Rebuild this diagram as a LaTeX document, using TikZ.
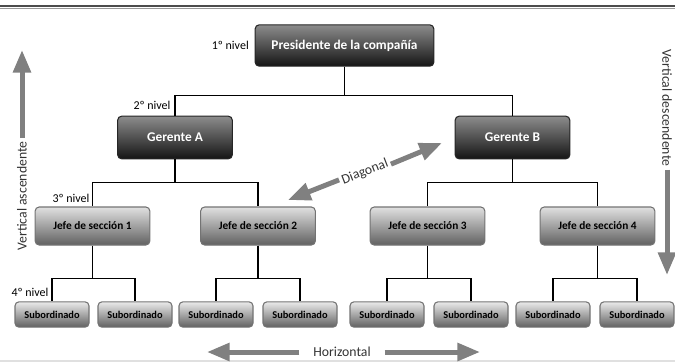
\documentclass[tikz,border=0pt]{standalone}
\usepackage{fontspec}
\setmainfont{Carlito}
\usetikzlibrary{arrows.meta,positioning}

\begin{document}
\begin{tikzpicture}[x=0.75pt,y=-0.75pt,
    darkbox/.style={draw=black!85,rounded corners=3pt,top color=black!45,middle color=black!68,bottom color=black!92,text=white,inner sep=0pt,font=\fontsize{10}{12}\selectfont\bfseries},
    jefebox/.style={draw=black!55,rounded corners=3pt,top color=black!12,middle color=black!28,bottom color=black!62,inner sep=0pt,minimum width=86pt,minimum height=28.5pt,font=\fontsize{8.5}{10}\selectfont\bfseries},
    subbox/.style={draw=black!55,rounded corners=3pt,top color=black!8,middle color=black!25,bottom color=black!62,inner sep=0pt,minimum width=55.5pt,minimum height=19pt,font=\fontsize{7.8}{9}\selectfont\bfseries},
    lvl/.style={inner sep=0pt,font=\fontsize{9}{11}\selectfont},
    axislabel/.style={inner sep=0pt,text=black!80,font=\fontsize{10.3}{12}\selectfont},
    bigarrow/.style={draw=black!50,line width=3.75pt,-{Triangle[length=17pt,width=13pt]}},
    line width=0.8pt]
    \useasboundingbox (0,0) rectangle (675,362);%
    \draw[black!70,line width=2pt] (0,6) -- (675,6);%
    \draw[black!40,line width=0.8pt] (0,8.5) -- (675,8.5);%
    \draw[black!12,line width=2pt] (0,361) -- (675,361);%

    \node[darkbox,minimum width=134pt,minimum height=31pt] (pres) at (344.5,45.5) {Presidente de la compañía};%
    \node[darkbox,minimum width=86pt,minimum height=32pt] (gerA) at (175,137.5) {Gerente A};%
    \node[darkbox,minimum width=86pt,minimum height=32pt] (gerB) at (512.5,137.5) {Gerente B};%
    \node[jefebox] (jefe1) at (92.5,226) {Jefe de sección 1};%
    \node[jefebox] (jefe2) at (258,226) {Jefe de sección 2};%
    \node[jefebox] (jefe3) at (427.5,226) {Jefe de sección 3};%
    \node[jefebox] (jefe4) at (597.5,226) {Jefe de sección 4};%
    \node[subbox] (sub1) at (52,314.5) {Subordinado};%
    \node[subbox] (sub2) at (135,314.5) {Subordinado};%
    \node[subbox] (sub3) at (216,314.5) {Subordinado};%
    \node[subbox] (sub4) at (300,314.5) {Subordinado};%
    \node[subbox] (sub5) at (387,314.5) {Subordinado};%
    \node[subbox] (sub6) at (471,314.5) {Subordinado};%
    \node[subbox] (sub7) at (553,314.5) {Subordinado};%
    \node[subbox] (sub8) at (637,314.5) {Subordinado};%

    \node[lvl,left=4pt of pres] (niv1) {1º nivel};%
    \node[lvl,anchor=east] (niv2) at (171,105) {2º nivel};%
    \node[lvl,anchor=east] (niv3) at (90,198) {3º nivel};%
    \node[lvl,anchor=east] (niv4) at (49,292) {4º nivel};%

    \draw[-] (pres.south) -- ++(0,29) -| (gerA.north);%
    \draw[-] (pres.south) -- ++(0,29) -| (gerB.north);%
    \draw[-] (gerA.south) -- ++(0,23) -| (jefe1.north);%
    \draw[-] (gerA.south) -- ++(0,23) -| (jefe2.north);%
    \draw[-] (gerB.south) -- ++(0,23) -| (jefe3.north);%
    \draw[-] (gerB.south) -- ++(0,23) -| (jefe4.north);%
    \draw[-] (jefe1.south) -- ++(0,33) -| (sub1.north);%
    \draw[-] (jefe1.south) -- ++(0,33) -| (sub2.north);%
    \draw[-] (jefe2.south) -- ++(0,33) -| (sub3.north);%
    \draw[-] (jefe2.south) -- ++(0,33) -| (sub4.north);%
    \draw[-] (jefe3.south) -- ++(0,33) -| (sub5.north);%
    \draw[-] (jefe3.south) -- ++(0,33) -| (sub6.north);%
    \draw[-] (jefe4.south) -- ++(0,33) -| (sub7.north);%
    \draw[-] (jefe4.south) -- ++(0,33) -| (sub8.north);%

    % flujos de comunicacion
    \node[axislabel,rotate=90] (asc) at (22,196) {Vertical ascendente};%
    \coordinate (ascTip) at (22,50);%
    \draw[bigarrow] ([yshift=2pt]asc.east) -- (ascTip);%
    \node[axislabel,rotate=-90] (desc) at (667,108) {Vertical descendente};%
    \coordinate (descTip) at (667,275);%
    \draw[bigarrow] ([yshift=-2pt]desc.east) -- (descTip);%
    \node[axislabel] (hor) at (342,352) {Horizontal};%
    \coordinate (horL) at (207,352);%
    \coordinate (horR) at (480,352);%
    \draw[bigarrow] ([xshift=-10pt]hor.west) -- (horL);%
    \draw[bigarrow] ([xshift=10pt]hor.east) -- (horR);%
    \node[axislabel,rotate=21] (diag) at (365,172) {Diagonal};%
    \coordinate (diagL) at (288,200);%
    \coordinate (diagR) at (442,143);%
    \draw[bigarrow] ([shift={(-2pt,0.8pt)}]diag.west) -- (diagL);%
    \draw[bigarrow] ([shift={(2pt,-0.8pt)}]diag.east) -- (diagR);%
  \end{tikzpicture}
\end{document}
